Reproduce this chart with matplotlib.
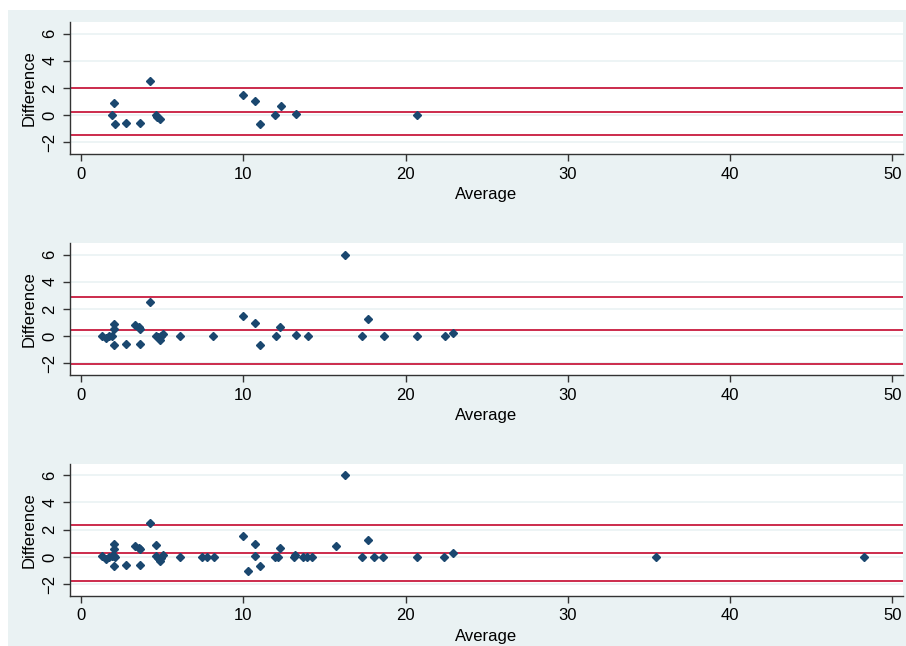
import numpy as np
import matplotlib.pyplot as plt
from matplotlib.patches import Rectangle

plt.rcParams['font.family'] = ['Liberation Sans', 'DejaVu Sans']

# Panel 1 (average, difference)
avg1 = [1.9, 2.03, 2.1, 2.77, 3.66, 4.25, 4.6, 4.7, 4.87, 10.0, 10.74, 11.05,
        11.97, 12.3, 13.25, 20.7]
diff1 = [0.0, 0.9, -0.68, -0.58, -0.58, 2.55, 0.0, -0.1, -0.25, 1.51, 1.07, -0.68,
         0.0, 0.66, 0.1, 0.0]

# Panel 2
avg2 = [1.3, 1.55, 1.75, 1.9, 2.0, 2.05, 2.05, 2.75, 3.35, 3.55, 3.65, 3.65, 4.25,
        4.6, 4.75, 4.85, 4.95, 5.05, 6.1, 8.15, 10.0, 10.74, 11.03, 12.0, 12.28,
        13.25, 14.0, 16.29, 17.3, 17.7, 18.65, 20.7, 22.4, 22.92]
diff2 = [0.05, -0.15, 0.0, 0.05, 0.9, 0.55, -0.68, -0.58, 0.8, 0.65, 0.55, -0.58, 2.55,
         0.05, -0.05, -0.25, 0.0, 0.15, 0.0, 0.0, 1.5, 1.0, -0.68, 0.0, 0.66,
         0.1, 0.0, 6.0, 0.0, 1.24, 0.0, 0.0, 0.0, 0.27]

# Panel 3
avg3 = [1.3, 1.55, 1.75, 1.9, 2.0, 2.05, 2.05, 2.05, 2.1, 2.75, 3.35, 3.55, 3.65, 3.65,
        4.25, 4.6, 4.6, 4.75, 4.85, 4.95, 5.05, 6.1, 7.43, 7.76, 8.17, 10.0, 10.31,
        10.72, 10.72, 11.03, 11.95, 12.16, 12.26, 13.1, 13.19, 13.7, 13.95, 14.21,
        15.69, 16.29, 17.3, 17.66, 18.05, 18.63, 20.7, 22.39, 22.9, 35.41, 48.22]
diff3 = [0.05, -0.15, 0.0, 0.05, 0.95, 0.6, 0.1, -0.66, 0.0, -0.58, 0.8, 0.65, 0.55, -0.58,
         2.5, 0.86, 0.05, -0.05, -0.3, -0.1, 0.15, 0.0, 0.0, 0.0, 0.0, 1.52, -1.03,
         0.98, 0.05, -0.66, 0.0, 0.0, 0.66, 0.0, 0.12, 0.0, 0.0, 0.0,
         0.81, 6.0, 0.0, 1.22, 0.0, 0.0, 0.0, 0.0, 0.27, 0.0, 0.0]

# Limits of agreement: upper, mean, lower
loa1 = [1.98, 0.25, -1.48]
loa2 = [2.87, 0.44, -2.02]
loa3 = [2.34, 0.25, -1.77]

panels = [(avg1, diff1, loa1), (avg2, diff2, loa2), (avg3, diff3, loa3)]

bg = '#EAF2F3'
navy = '#1A476F'
red = '#CC2B4C'

fig = plt.figure(figsize=(9.06, 6.46), dpi=100, facecolor='white')
fig.patches.append(Rectangle((8 / 906, 0), 1, 1 - 10 / 646, transform=fig.transFigure,
                             facecolor=bg, edgecolor='none', zorder=-10))

bottoms = [0.7616, 0.4195, 0.0779]
for (x, y, loa), b in zip(panels, bottoms):
    ax = fig.add_axes([0.0773, b, 0.9194, 0.2043])
    ax.set_facecolor('white')
    for v in [-2, 0, 2, 4, 6]:
        ax.axhline(v, color=bg, lw=1.2, zorder=0)
    for v in loa:
        ax.axhline(v, color=red, lw=1.4, zorder=1)
    ax.plot(x, y, 'D', color=navy, ms=4.5, mec=navy, zorder=3, ls='none')
    ax.set_xlim(-0.68, 50.65)
    ax.set_ylim(-2.85, 6.85)
    ax.set_xticks([0, 10, 20, 30, 40, 50])
    ax.set_yticks([-2, 0, 2, 4, 6])
    for s in ['top', 'right']:
        ax.spines[s].set_visible(False)
    for s in ['left', 'bottom']:
        ax.spines[s].set_color('#333333')
        ax.spines[s].set_linewidth(1.0)
    ax.tick_params(direction='out', length=5, width=1, color='#333333',
                   labelsize=12, pad=4)
    for lab in ax.get_yticklabels():
        lab.set_rotation(90)
        lab.set_va('center')
    ax.set_xlabel('Average', fontsize=12, labelpad=4)
    ax.set_ylabel('Difference', fontsize=12, labelpad=4)

fig.savefig('out.png', dpi=100, facecolor='white')
